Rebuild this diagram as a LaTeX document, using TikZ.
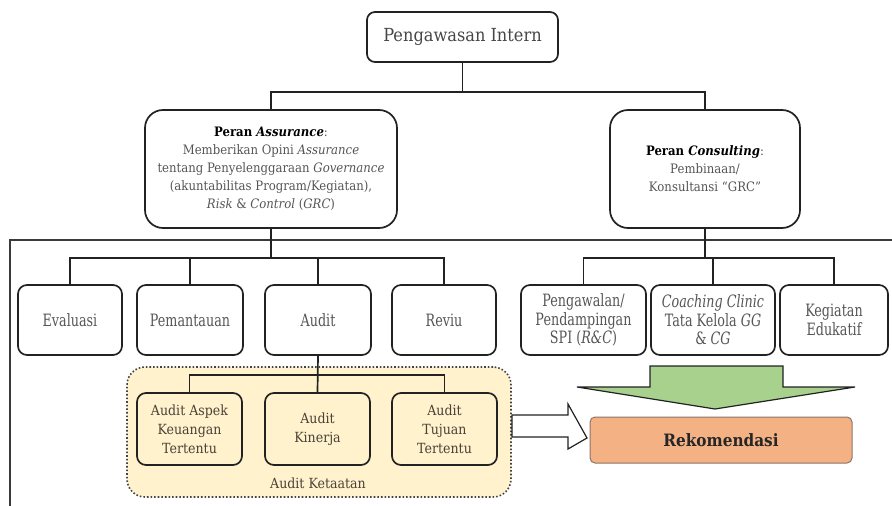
\documentclass[tikz,border=0pt]{standalone}
\usepackage{fontspec}
\setmainfont{DejaVu Serif}
\newfontfamily\condf[FakeStretch=0.75]{DejaVu Serif}
\newfontfamily\semif[FakeStretch=0.9]{DejaVu Serif}
\usetikzlibrary{calc}
\definecolor{linec}{HTML}{222222}
\definecolor{framec}{HTML}{3A3A3A}
\definecolor{txtc}{HTML}{555555}
\definecolor{subtxt}{HTML}{4A4238}
\definecolor{ketaatan}{HTML}{FFF2CC}
\definecolor{arrowgreen}{HTML}{A9D18E}
\definecolor{rekfill}{HTML}{F4B183}
\definecolor{rekline}{HTML}{8C7566}
\tikzset{
  box/.style={draw=linec, line width=1.7pt, rounded corners=9pt, fill=white,
    inner sep=2pt, outer sep=0pt, align=center, text=txtc},
  rolebox/.style={box, rounded corners=18pt, font=\semif\fontsize{13}{18}\selectfont},
  labbox/.style={box, minimum height=70, font=\condf\fontsize{17}{18.5}\selectfont},
  subbox/.style={box, fill=ketaatan, minimum width=105, minimum height=72,
    text=subtxt, font=\semif\fontsize{14}{19}\selectfont},
  conn/.style={draw=linec, line width=1.7pt},
  frameline/.style={draw=framec, line width=2pt},
  blockarrow/.style={draw=linec, line width=1.2pt, line join=miter}
}
\begin{document}
\begin{tikzpicture}[x=1pt,y=-1pt]
\useasboundingbox (0,0) rectangle (892,506);

% outer frame of the lower level
\coordinate (frameBL) at (10,506);
\coordinate (frameTR) at (892,240);
\draw[frameline] (frameBL) |- (frameTR);

% top
\node[box, minimum width=191, minimum height=50, rounded corners=8pt,
  text=black!72, font=\semif\fontsize{18}{20}\selectfont] (pi) at (462.5,37) {Pengawasan Intern};

% roles
\node[rolebox, minimum width=252, minimum height=118] (ass) at (271,169)
  {{\color{black}\bfseries Peran \textit{Assurance}}:\\
   Memberikan Opini \textit{Assurance}\\
   tentang Penyelenggaraan \textit{Governance}\\
   (akuntabilitas Program/Kegiatan),\\
   \textit{Risk} \& \textit{Control} (\textit{GRC})};
\node[rolebox, minimum width=190, minimum height=118] (con) at (705,169)
  {{\color{black}\bfseries Peran \textit{Consulting}}:\\
   Pembinaan/\\
   Konsultansi “GRC”};

\coordinate (j1) at (462.5,92);
\draw[conn] (pi.south) -- (j1);
\draw[conn] (ass.north) |- (j1) -| (con.north);

% assurance activities
\node[labbox, minimum width=104] (eva) at (70,320) {Evaluasi};
\node[labbox, minimum width=106] (pem) at (190,320) {Pemantauan};
\node[labbox, minimum width=106] (aud) at (318,320) {Audit};
\node[labbox, minimum width=104] (rev) at (444,320) {Reviu};

% consulting activities
\node[labbox, minimum width=125] (peng) at (583.5,320) {Pengawalan/\\Pendampingan\\SPI (\textit{R\&C})};
\node[labbox, minimum width=124] (coach) at (713,320) {\textit{Coaching Clinic}\\Tata Kelola \textit{GG}\\\& \textit{CG}};
\node[labbox, minimum width=108] (keg) at (834,320) {Kegiatan\\Edukatif};

\coordinate (ja) at ($(ass.south)+(0,30)$);
\draw[conn] (ass.south) -- (ja);
\draw[conn] (eva.north) |- (ja) -| (rev.north);
\draw[conn] (pem.north) -- (pem.north |- ja);
\draw[conn] (aud.north) -- (aud.north |- ja);

\coordinate (jc) at ($(con.south)+(0,30)$);
\draw[conn] (con.south) -- (jc);
\draw[conn] (peng.north) |- (jc) -| (keg.north);
\draw[conn] (coach.north) -- (coach.north |- jc);

% audit ketaatan group
\node[draw=linec!85, line width=1.6pt, dotted, fill=ketaatan, rounded corners=18pt,
  minimum width=384, minimum height=130, outer sep=0pt] (ket) at (319,432) {};
\node[text=subtxt, font=\semif\fontsize{14}{16}\selectfont] (ketlab) at (318,483) {Audit Ketaatan};

\node[subbox] (ak) at (189.5,429) {Audit Aspek\\Keuangan\\Tertentu};
\node[subbox] (kin) at (317.5,429) {Audit\\Kinerja};
\node[subbox] (tuj) at (444.5,429) {Audit\\Tujuan\\Tertentu};

\coordinate (jk) at ($(aud.south)+(0,20)$);
\draw[conn] (aud.south) -- (kin.north);
\draw[conn] (ak.north) |- (jk) -| (tuj.north);

% recommendation
\node[draw=rekline, line width=1pt, fill=rekfill, rounded corners=5pt,
  minimum width=262, minimum height=46, outer sep=0pt,
  font=\semif\fontsize{17}{18}\selectfont\bfseries, text=black!85] (rek) at (721,440) {Rekomendasi};

% white block arrow from the group to the recommendation
\coordinate (wa) at ($(ket.east)+(1,-6)$);
\draw[blockarrow, fill=white]
  (wa) -- ++(0,-11) -- ++(56,0) -- ++(0,-11) -- ($(rek.west)+(-3,-2)$)
  -- ($(wa)+(56,23)$) -- ++(0,-12) -- ++(-56,0) -- cycle;

% green block arrow pointing down to the recommendation
\coordinate (gt) at ($(rek.north)+(-6,-8)$);
\draw[blockarrow, fill=arrowgreen]
  ($(gt)+(-65,-43)$) -- ($(gt)+(68,-43)$) -- ($(gt)+(68,-22)$) -- ($(gt)+(140,-22)$)
  -- (gt) -- ($(gt)+(-138,-22)$) -- ($(gt)+(-65,-22)$) -- cycle;
\end{tikzpicture}
\end{document}
